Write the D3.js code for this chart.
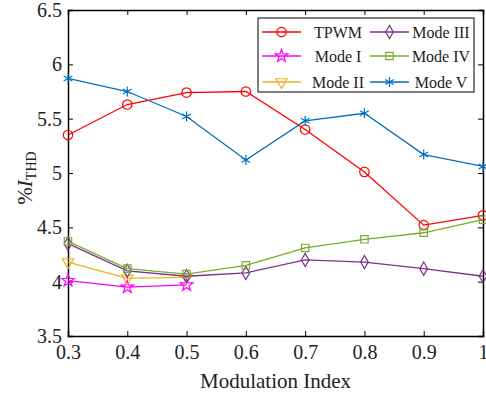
<!DOCTYPE html>
<html>
<head>
<meta charset="utf-8">
<script src="https://cdn.jsdelivr.net/npm/d3@7"></script>
<style>
  body { margin: 0; background: #fff; }
  svg text { font-family: "Times New Roman", "Liberation Serif", Times, serif !important; }
</style>
</head>
<body>
<div id="chart"></div>
<script>
// dữ liệu
const xValues = [0.3, 0.4, 0.5, 0.6, 0.7, 0.8, 0.9, 1.0];
const xTicks = [0.3, 0.4, 0.5, 0.6, 0.7, 0.8, 0.9, 1];
const yTicks = [3.5, 4, 4.5, 5, 5.5, 6, 6.5];

const tpwm   = [5.35, 5.63, 5.74, 5.75, 5.40, 5.01, 4.52, 4.61];
const modeI  = [4.01, 3.95, 3.97];
const modeII = [4.18, 4.03, 4.04];
const modeIII = [4.35, 4.10, 4.05, 4.08, 4.20, 4.18, 4.12, 4.05];
const modeIV  = [4.37, 4.12, 4.07, 4.15, 4.31, 4.39, 4.45, 4.57];
const modeV   = [5.87, 5.75, 5.52, 5.12, 5.48, 5.55, 5.17, 5.06];

const seriesNames = ["TPWM", "Mode I", "Mode II", "Mode III", "Mode IV", "Mode V"];
const seriesValues = [tpwm, modeI, modeII, modeIII, modeIV, modeV];
const seriesColors = ["#ff0000", "#ff00ff", "#edb120", "#7e2f8e", "#77ac30", "#0072bd"];
const seriesMarkers = ["circle", "star", "triangle", "diamond", "square", "asterisk"];

const series = seriesNames.map((name, i) => ({
    name: name,
    color: seriesColors[i],
    marker: seriesMarkers[i],
    values: seriesValues[i].map((v, j) => ({ x: xValues[j], y: v }))
}));

const W = 486, H = 396;
const margin = { top: 10, right: 3, bottom: 60, left: 68 };
const width = W - margin.left - margin.right;   // 415
const height = H - margin.top - margin.bottom;  // 326
const FONT = "Liberation Serif";

const svg = d3.select("#chart").append("svg")
    .attr("width", W)
    .attr("height", H)
    .append("g")
    .attr("transform", `translate(${margin.left},${margin.top})`);

const x = d3.scaleLinear().domain([0.3, 1]).range([0, width]);
const y = d3.scaleLinear().domain([3.5, 6.5]).range([height, 0]);

// hàm vẽ marker
function markerPath(type) {
    if (type === "circle") return d3.symbol(d3.symbolCircle, 70)();
    if (type === "star") return d3.symbol(d3.symbolStar, 50)();
    if (type === "triangle") return d3.symbol(d3.symbolTriangle, 55)();
    if (type === "diamond") return d3.symbol(d3.symbolDiamond, 50)();
    if (type === "square") return d3.symbol(d3.symbolSquare, 55)();
    if (type === "asterisk") return d3.symbol(d3.symbolAsterisk, 70)();
}
function markerTransform(type, px, py) {
    return type === "triangle" ? `translate(${px},${py}) rotate(180)` : `translate(${px},${py})`;
}

// trục
const fmt = d => String(d);
svg.append("g")
    .attr("transform", `translate(0,${height})`)
    .call(d3.axisBottom(x).tickValues(xTicks).tickFormat(fmt).tickSize(-5).tickPadding(9))
    .call(g => g.selectAll("text").style("font-size", "20px").attr("fill", "#222"));

svg.append("g")
    .call(d3.axisLeft(y).tickValues(yTicks).tickFormat(fmt).tickSize(-5).tickPadding(6))
    .call(g => g.selectAll("text").style("font-size", "20px").attr("fill", "#222"));

svg.append("g")
    .call(d3.axisTop(x).tickValues(xTicks).tickFormat("").tickSize(-5));

svg.append("g")
    .attr("transform", `translate(${width},0)`)
    .call(d3.axisRight(y).tickValues(yTicks).tickFormat("").tickSize(-5));

svg.selectAll("g").attr("font-family", FONT);
svg.selectAll(".domain").attr("stroke", "#000").attr("stroke-width", 1.5);
svg.selectAll(".tick line").attr("stroke", "#000").attr("stroke-width", 1);

// đường
const line = d3.line().x(d => x(d.x)).y(d => y(d.y));

const groups = svg.selectAll("g.series")
    .data(series)
    .enter()
    .append("g")
    .attr("class", "series");

groups.append("path")
    .attr("d", d => line(d.values))
    .attr("fill", "none")
    .attr("stroke", d => d.color)
    .attr("stroke-width", 1.3);

groups.each(function(s) {
    d3.select(this).selectAll("path.mk")
        .data(s.values)
        .enter()
        .append("path")
        .attr("class", "mk")
        .attr("d", markerPath(s.marker))
        .attr("transform", d => markerTransform(s.marker, x(d.x), y(d.y)))
        .attr("fill", "none")
        .attr("stroke", s.color)
        .attr("stroke-width", 1.2);
});

// chú thích
const lg = svg.append("g").attr("transform", `translate(${258 - margin.left},${18 - margin.top})`);
lg.append("rect")
    .attr("width", 216)
    .attr("height", 74)
    .attr("fill", "#fff")
    .attr("stroke", "#000")
    .attr("stroke-width", 1);

const rowY = [14, 38, 64];
series.forEach((s, i) => {
    const col = Math.floor(i / 3), row = i % 3;
    const x0 = col === 0 ? 4 : 112;
    const g = lg.append("g").attr("transform", `translate(0,${rowY[row]})`);
    g.append("line")
        .attr("x1", x0).attr("x2", x0 + 39)
        .attr("stroke", s.color).attr("stroke-width", 1.3);
    g.append("path")
        .attr("d", markerPath(s.marker))
        .attr("transform", markerTransform(s.marker, x0 + 19.5, 0))
        .attr("fill", "none")
        .attr("stroke", s.color)
        .attr("stroke-width", 1.2);
    g.append("text")
        .attr("x", col === 0 ? 80 : 183)
        .attr("y", 5.5)
        .attr("text-anchor", "middle")
        .attr("font-family", FONT)
        .style("font-size", "16px")
        .attr("fill", "#222")
        .text(s.name);
});

// nhãn trục
svg.append("text")
    .attr("x", width / 2)
    .attr("y", 388 - margin.top)
    .attr("text-anchor", "middle")
    .attr("font-family", FONT)
    .style("font-size", "21px")
    .attr("fill", "#222")
    .text("Modulation Index");

const yl = svg.append("text")
    .attr("transform", `translate(${32 - margin.left},${178 - margin.top}) rotate(-90)`)
    .attr("text-anchor", "middle")
    .attr("font-family", FONT)
    .style("font-size", "21px")
    .attr("fill", "#222");
yl.append("tspan").text("%");
yl.append("tspan").style("font-style", "italic").text("I");
yl.append("tspan").attr("dy", 4).style("font-size", "14px").text("THD");
</script>
</body>
</html>
